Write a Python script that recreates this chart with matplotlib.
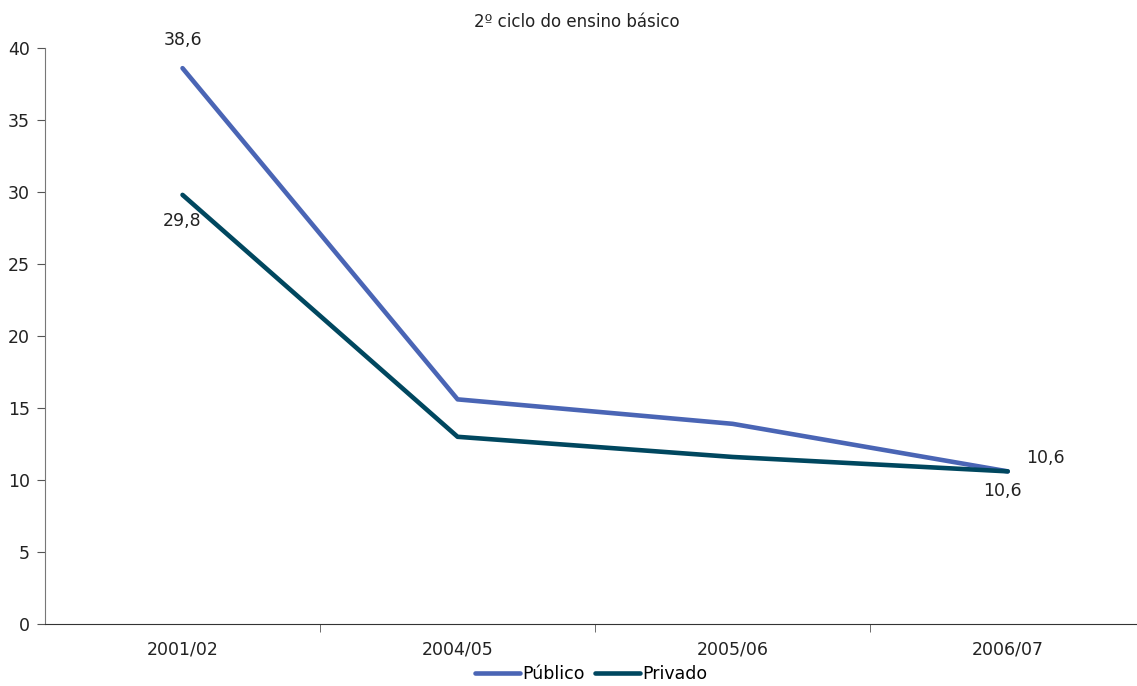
import matplotlib;matplotlib.use('Agg')
import matplotlib.pyplot as plt

TITLE = '2º ciclo do ensino básico'
anos = ['2001/02', '2004/05', '2005/06', '2006/07']
publico = [38.6, 15.6, 13.9, 10.6]
privado = [29.8, 13.0, 11.6, 10.6]

COR_PUB = '#4a65b5'
COR_PRIV = '#00475f'
FS = 12.5

plt.rcParams['font.family'] = 'DejaVu Sans'
fig = plt.figure(figsize=(11.37, 6.86), dpi=100)
ax = fig.add_axes([45/1137, 62/686, 1 - 45/1137, 576/686])

x = list(range(len(anos)))
ax.plot(x, publico, color=COR_PUB, lw=3.3, solid_capstyle='round', label='Público')
ax.plot(x, privado, color=COR_PRIV, lw=3.3, solid_capstyle='round', label='Privado')

def fmt(v):
    return f'{v:.1f}'.replace('.', ',')

txt = dict(fontsize=FS, color='#222222', ha='center', textcoords='offset points')
ax.annotate(fmt(publico[0]), (0, publico[0]), xytext=(0, 14), va='bottom', **txt)
ax.annotate(fmt(privado[0]), (0, privado[0]), xytext=(0, -12), va='top', **txt)
ax.annotate(fmt(publico[-1]), (3, publico[-1]), xytext=(27, 3), va='bottom', **txt)
ax.annotate(fmt(privado[-1]), (3, privado[-1]), xytext=(-4, -8), va='top', **txt)

ax.set_xlim(-0.5, 3.47)
ax.set_ylim(0, 40)
ax.set_yticks(range(0, 41, 5))
ax.set_xticks(x)
ax.set_xticklabels(anos)
ax.set_xticks([0.5, 1.5, 2.5], minor=True)
ax.tick_params(axis='x', which='major', length=0, pad=12, labelsize=FS, labelcolor='#222222')
ax.tick_params(axis='x', which='minor', length=6, direction='out', color='#555555')
ax.tick_params(axis='y', length=6, direction='out', color='#555555', labelsize=FS,
               labelcolor='#222222', pad=5)

for s in ['top', 'right']:
    ax.spines[s].set_visible(False)
ax.spines['left'].set_color('#777777')
ax.spines['bottom'].set_color('#333333')

fig.text(577/1137, 1 - 22/686, TITLE, fontsize=12, color='#222222', ha='center', va='center')
fig.legend(loc='lower center', bbox_to_anchor=(0.52, -0.018), ncol=2, frameon=False,
           fontsize=FS, handlelength=2.6, handletextpad=0.1, columnspacing=0.6)

plt.savefig('out.png', dpi=100)
